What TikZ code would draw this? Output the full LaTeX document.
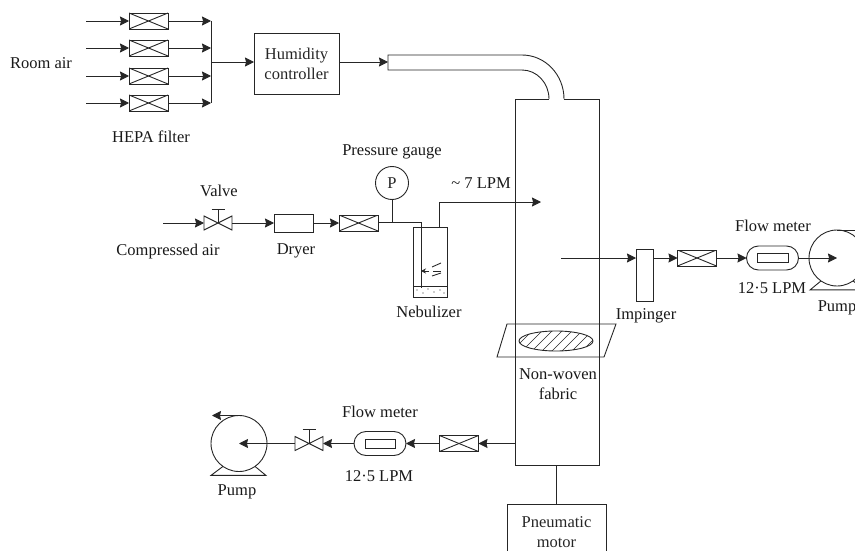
\documentclass[tikz,border=0pt]{standalone}
\usepackage{fontspec}
\setmainfont{Liberation Serif}
\usetikzlibrary{arrows.meta,shapes.geometric}
\begin{document}
\begin{tikzpicture}[>={Stealth[length=9pt,width=9pt,inset=1pt]}, x=1pt, y=1pt, line width=0.9pt, black!85,
    font=\fontsize{16.5}{20}\selectfont]
    \tikzset{
        txt/.style={inner sep=0pt, align=center, black!90},
        box/.style={draw, inner sep=0pt, outer sep=0pt, align=center},
        filterbox/.style={box, minimum width=39pt, minimum height=16pt, path picture={
            \draw (path picture bounding box.north west) -- (path picture bounding box.south east);
            \draw (path picture bounding box.south west) -- (path picture bounding box.north east);}},
        meterbox/.style={box, minimum width=52pt, minimum height=24pt, rounded corners=12pt},
        tubebox/.style={box, minimum width=30pt, minimum height=9pt},
        valvebox/.style={inner sep=0pt, outer sep=0pt, minimum width=28pt, minimum height=14pt},
        pumpbox/.style={box, circle, minimum size=56pt},
        hatchbox/.style={box, ellipse, minimum width=74pt, minimum height=20pt, path picture={
            \foreach \hx in {-45,-35,...,35}
                \draw[line width=0.6pt] ([xshift=\hx pt,yshift=-11pt]path picture bounding box.center) -- ++(22,22);}}
    }
    \useasboundingbox (0,0) rectangle (855,-551);

    % room air
    \node[filterbox] (hepa1) at (148.5,-21) {};
    \node[filterbox] (hepa2) at (148.5,-48) {};
    \node[filterbox] (hepa3) at (148.5,-76) {};
    \node[filterbox] (hepa4) at (148.5,-103) {};
    \coordinate (in1) at (86,-21);
    \coordinate (in2) at (86,-48);
    \coordinate (in3) at (86,-76);
    \coordinate (in4) at (86,-103);
    \coordinate (bus1) at (211,-21);
    \coordinate (bus2) at (211,-48);
    \coordinate (bus3) at (211,-76);
    \coordinate (bus4) at (211,-103);
    \coordinate (busmid) at (211,-62);
    \draw[->] (in1) -- (hepa1);
    \draw[->] (in2) -- (hepa2);
    \draw[->] (in3) -- (hepa3);
    \draw[->] (in4) -- (hepa4);
    \draw[->] (hepa1) -- (bus1);
    \draw[->] (hepa2) -- (bus2);
    \draw[->] (hepa3) -- (bus3);
    \draw[->] (hepa4) -- (bus4);
    \draw (bus1) -- (bus4);
    \node[box, minimum width=85pt, minimum height=61pt] (humid) at (296.5,-64) {Humidity\\controller};
    \draw[->] (busmid) -- (humid.west |- busmid);
    \node[txt] (roomair) at (41,-63) {Room air};
    \node[txt] (hepalabel) at (151,-137) {HEPA filter};

    % duct and column
    \coordinate (ductin) at (388,-62);
    \draw[->] (humid.east |- ductin) -- (ductin);
    \draw (549,-99) arc[start angle=0, end angle=90, x radius=27, y radius=29] -- (388,-70) -- (388,-55) -- (522,-55)
        arc[start angle=90, end angle=0, x radius=42, y radius=44];
    \draw (549,-99) -- (515,-99) -- (515,-465) -- (599,-465) -- (599,-99) -- (564,-99);
    \coordinate (columnbase) at (556,-465);

    % compressed air line
    \coordinate (airin) at (163,-223);
    \node[valvebox] (valvea) at (218,-223) {};
    \draw (valvea.north west) -- (valvea.south east) -- (valvea.north east) -- (valvea.south west) -- cycle;
    \draw (valvea.center) -- ++(0,14) ++(-6.5,0) -- ++(13,0);
    \node[box, minimum width=39pt, minimum height=18pt] (dryer) at (293.5,-223) {};
    \node[filterbox] (hepa5) at (358.5,-223) {};
    \draw[->] (airin) -- (valvea);
    \draw[->] (valvea) -- (dryer);
    \draw[->] (dryer) -- (hepa5);
    \node[box, circle, minimum size=33pt] (gauge) at (392,-183) {P};
    \coordinate (tee) at (392,-222.5);
    \coordinate (nozzle) at (421,-222.5);
    \coordinate (nozzleend) at (421,-288);
    \draw (gauge) -- (tee);
    \draw (hepa5.east |- tee) -- (nozzle) -- (nozzleend);

    % nebulizer
    \node[box, minimum width=34pt, minimum height=70pt] (nebulizer) at (430,-262) {};
    \draw (nebulizer.west |- 0,-286) -- (nebulizer.east |- 0,-286);
    \foreach \px/\py in {417/-290, 423/-293, 428/-289, 434/-292, 440/-290, 444/-293}
        \fill (\px,\py) circle[radius=0.6pt];
    \coordinate (sprayend) at (421,-271);
    \coordinate (spraystart) at (429,-271);
    \draw[-{Stealth[length=5pt,width=5pt]}] (spraystart) -- (sprayend);
    \draw (432,-267) -- (441,-263);
    \draw (433,-271) -- (441,-271);
    \draw (432,-276) -- (441,-273);
    \coordinate (feedup) at (439,-202);
    \coordinate (feedend) at (541,-202);
    \draw[->] (439,-227) -- (feedup) -- (feedend);

    \node[txt] (valvelabel) at (219,-191) {Valve};
    \node[txt] (compressed) at (168,-252) {Compressed air};
    \node[txt] (dryerlabel) at (296,-251) {Dryer};
    \node[txt] (gaugelabel) at (392,-152) {Pressure gauge};
    \node[txt] (nebulabel) at (429,-312) {Nebulizer};
    \node[txt] (lpmseven) at (481,-183) {\textasciitilde\ 7 LPM};

    % sampling line, right
    \coordinate (sample) at (561,-258);
    \node[box, minimum width=17pt, minimum height=52pt] (impinger) at (644.5,-275) {};
    \node[filterbox] (hepa6) at (697,-258) {};
    \node[meterbox] (metera) at (772.5,-258) {};
    \node[tubebox, minimum width=31pt] (tubea) at (772.5,-258) {};
    \node[pumpbox] (pumpa) at (837,-258) {};
    \draw[->] (sample) -- (impinger.west |- sample);
    \draw[->] (impinger.east |- sample) -- (hepa6);
    \draw[->] (hepa6) -- (metera);
    \draw[->] (metera) -- (pumpa.center);
    \draw (pumpa.north) -- ++(27,0);
    \draw (pumpa.305) -- ++(12,-9) -- ++(-55,0) -- (pumpa.235);
    \node[txt] (meteralabel) at (773,-226) {Flow meter};
    \node[txt] (lpma) at (772,-288) {12·5 LPM};
    \node[txt] (pumpalabel) at (837,-308) {Pump};
    \node[txt] (impingerlabel) at (646,-316) {Impinger};

    % fabric
    \draw (507,-324) -- (616,-324) -- (604,-357) -- (497,-357) -- cycle;
    \node[hatchbox] (fabric) at (556,-341) {};
    \node[txt] (fabriclabel) at (558,-384) {Non-woven\\fabric};

    % motor
    \node[box, minimum width=99pt, minimum height=56pt] (motor) at (556.5,-532) {Pneumatic\\motor};
    \draw (columnbase) -- (columnbase |- motor.north);

    % sampling line, left
    \coordinate (outlet) at (515,-443.5);
    \node[filterbox] (hepa7) at (459,-443.5) {};
    \node[meterbox] (meterb) at (380,-443.5) {};
    \node[tubebox] (tubeb) at (380,-443.5) {};
    \node[valvebox] (valveb) at (309,-443.5) {};
    \draw (valveb.north west) -- (valveb.south east) -- (valveb.north east) -- (valveb.south west) -- cycle;
    \draw (valveb.center) -- ++(0,14) ++(-6.5,0) -- ++(13,0);
    \node[pumpbox] (pumpb) at (239,-443.5) {};
    \draw[->] (outlet) -- (hepa7);
    \draw[->] (hepa7) -- (meterb);
    \draw[->] (meterb) -- (valveb);
    \draw[->] (valveb) -- (pumpb.center);
    \draw[->] (pumpb.north) -- ++(-27,0);
    \draw (pumpb.235) -- ++(-12,-9) -- ++(55,0) -- (pumpb.305);
    \node[txt] (meterblabel) at (380,-412) {Flow meter};
    \node[txt] (lpmb) at (379,-476) {12·5 LPM};
    \node[txt] (pumpblabel) at (237,-492) {Pump};
\end{tikzpicture}
\end{document}
